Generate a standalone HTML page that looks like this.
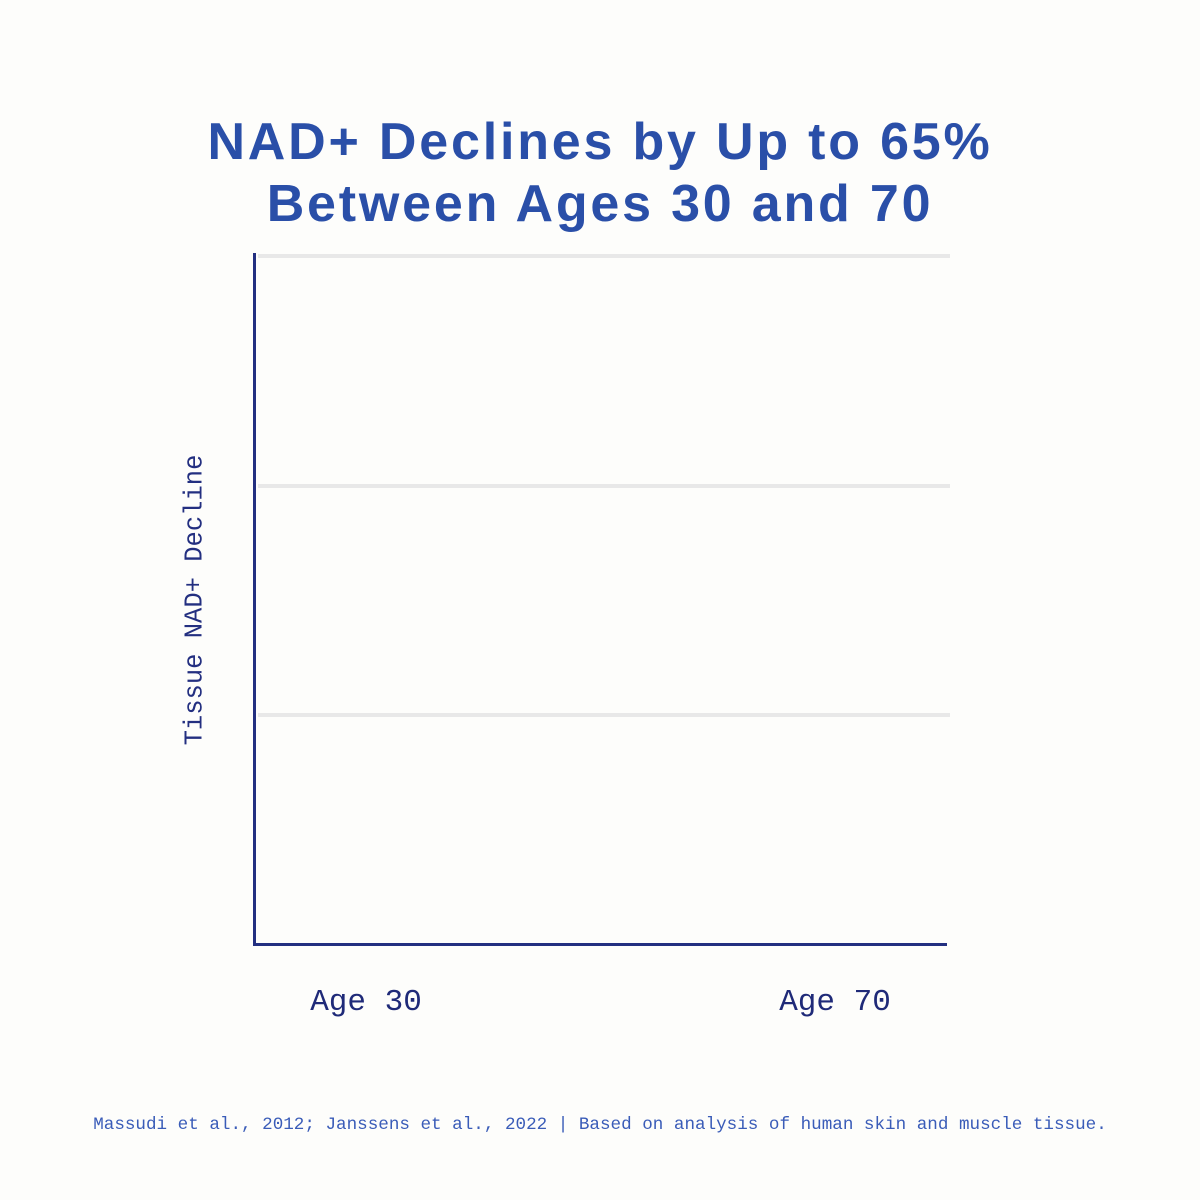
<!DOCTYPE html>
<html><head><meta charset="utf-8"><style>
html,body{margin:0;padding:0;background:#fdfdfb;}
.wrap{position:relative;width:1200px;height:1200px;overflow:hidden;}
.title{position:absolute;left:0;width:1200px;text-align:center;font-family:"Liberation Sans",sans-serif;font-weight:bold;font-size:52px;letter-spacing:2.8px;color:#2a4fa8;line-height:62px;top:111px;}
</style></head><body><div class="wrap">
<div class="title">NAD+ Declines by Up to 65%<br>Between Ages 30 and 70</div>
<svg width="1200" height="1200" style="position:absolute;left:0;top:0">
<line x1="258" y1="256" x2="950" y2="256" stroke="#e8e8e8" stroke-width="4"/>
<line x1="258" y1="486" x2="950" y2="486" stroke="#e8e8e8" stroke-width="4"/>
<line x1="258" y1="715" x2="950" y2="715" stroke="#e8e8e8" stroke-width="4"/>
<line x1="254.5" y1="253" x2="254.5" y2="946" stroke="#232f80" stroke-width="3"/>
<line x1="253" y1="944.5" x2="947" y2="944.5" stroke="#232f80" stroke-width="3"/>
<text x="195" y="600" transform="rotate(-90 195 600)" text-anchor="middle" dominant-baseline="middle" font-family="Liberation Mono, monospace" font-size="25.5" fill="#232f80">Tissue NAD+ Decline</text>
<text x="366" y="1010" text-anchor="middle" font-family="Liberation Mono, monospace" font-size="31" fill="#1f2a78">Age 30</text>
<text x="835" y="1010" text-anchor="middle" font-family="Liberation Mono, monospace" font-size="31" fill="#1f2a78">Age 70</text>
<text x="600" y="1129" text-anchor="middle" font-family="Liberation Mono, monospace" font-size="17.6" fill="#3a5cb8">Massudi et al., 2012; Janssens et al., 2022 | Based on analysis of human skin and muscle tissue.</text>
</svg>
</div></body></html>
